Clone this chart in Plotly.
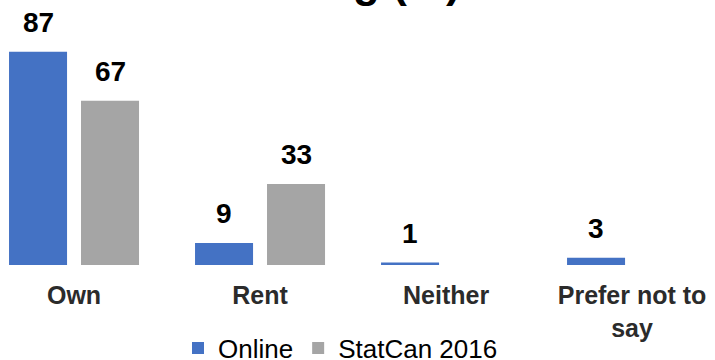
import plotly.graph_objects as go

categories = ["Own", "Rent", "Neither", "Prefer not to<br>say"]
online = [87, 9, 1, 3]
statcan_2016 = [67, 33, None, None]
series_names = ["Online", "StatCan 2016"]
title_text = "Housing (%)"

BLUE = "#4472C4"
GREY = "#A5A5A5"
FONT = "Liberation Sans, Arial, sans-serif"

fig = go.Figure()
fig.add_trace(go.Bar(name=series_names[0], x=categories, y=online,
                     marker=dict(color=BLUE, line=dict(width=0))))
fig.add_trace(go.Bar(name=series_names[1], x=categories, y=statcan_2016,
                     marker=dict(color=GREY, line=dict(width=0))))

# value labels above each bar
for values, shift in ((online, -36), (statcan_2016, 36)):
    for cat, v in zip(categories, values):
        if v is None:
            continue
        fig.add_annotation(x=cat, y=v, xref="x", yref="y", text=f"<b>{v}</b>",
                           showarrow=False, xshift=shift, yanchor="bottom", yshift=12,
                           font=dict(family=FONT, size=28, color="#000000"))

# chart title, mostly above the visible area
fig.add_annotation(x=332 / 715, xref="paper", y=1, yref="paper", text=f"<b>{title_text}</b>",
                   showarrow=False, yanchor="bottom", yshift=-8, xanchor="center",
                   font=dict(family=FONT, size=44, color="#000000"))

fig.update_layout(
    width=715, height=360,
    margin=dict(l=0, r=0, t=0, b=95, autoexpand=False),
    paper_bgcolor="white", plot_bgcolor="white",
    barmode="group", bargap=0.226, bargroupgap=0.194,
    showlegend=True,
    legend=dict(orientation="h", x=178 / 715, xanchor="left",
                yref="container", y=(360 - 348) / 360, yanchor="middle",
                font=dict(family=FONT, size=26, color="#000000"),
                itemwidth=30, bgcolor="rgba(0,0,0,0)"),
    xaxis=dict(type="category", range=[-0.398, 3.446], showline=False, showgrid=False,
               ticks="", tickfont=dict(family=FONT, size=25, color="#2b2b2b"),
               tickprefix="<b>", ticksuffix="</b>", ticklabelstandoff=13,
               automargin=False, fixedrange=True),
    yaxis=dict(range=[0, 108.1], visible=False, fixedrange=True),
)

fig.write_html("out.html", config={"displayModeBar": False})
